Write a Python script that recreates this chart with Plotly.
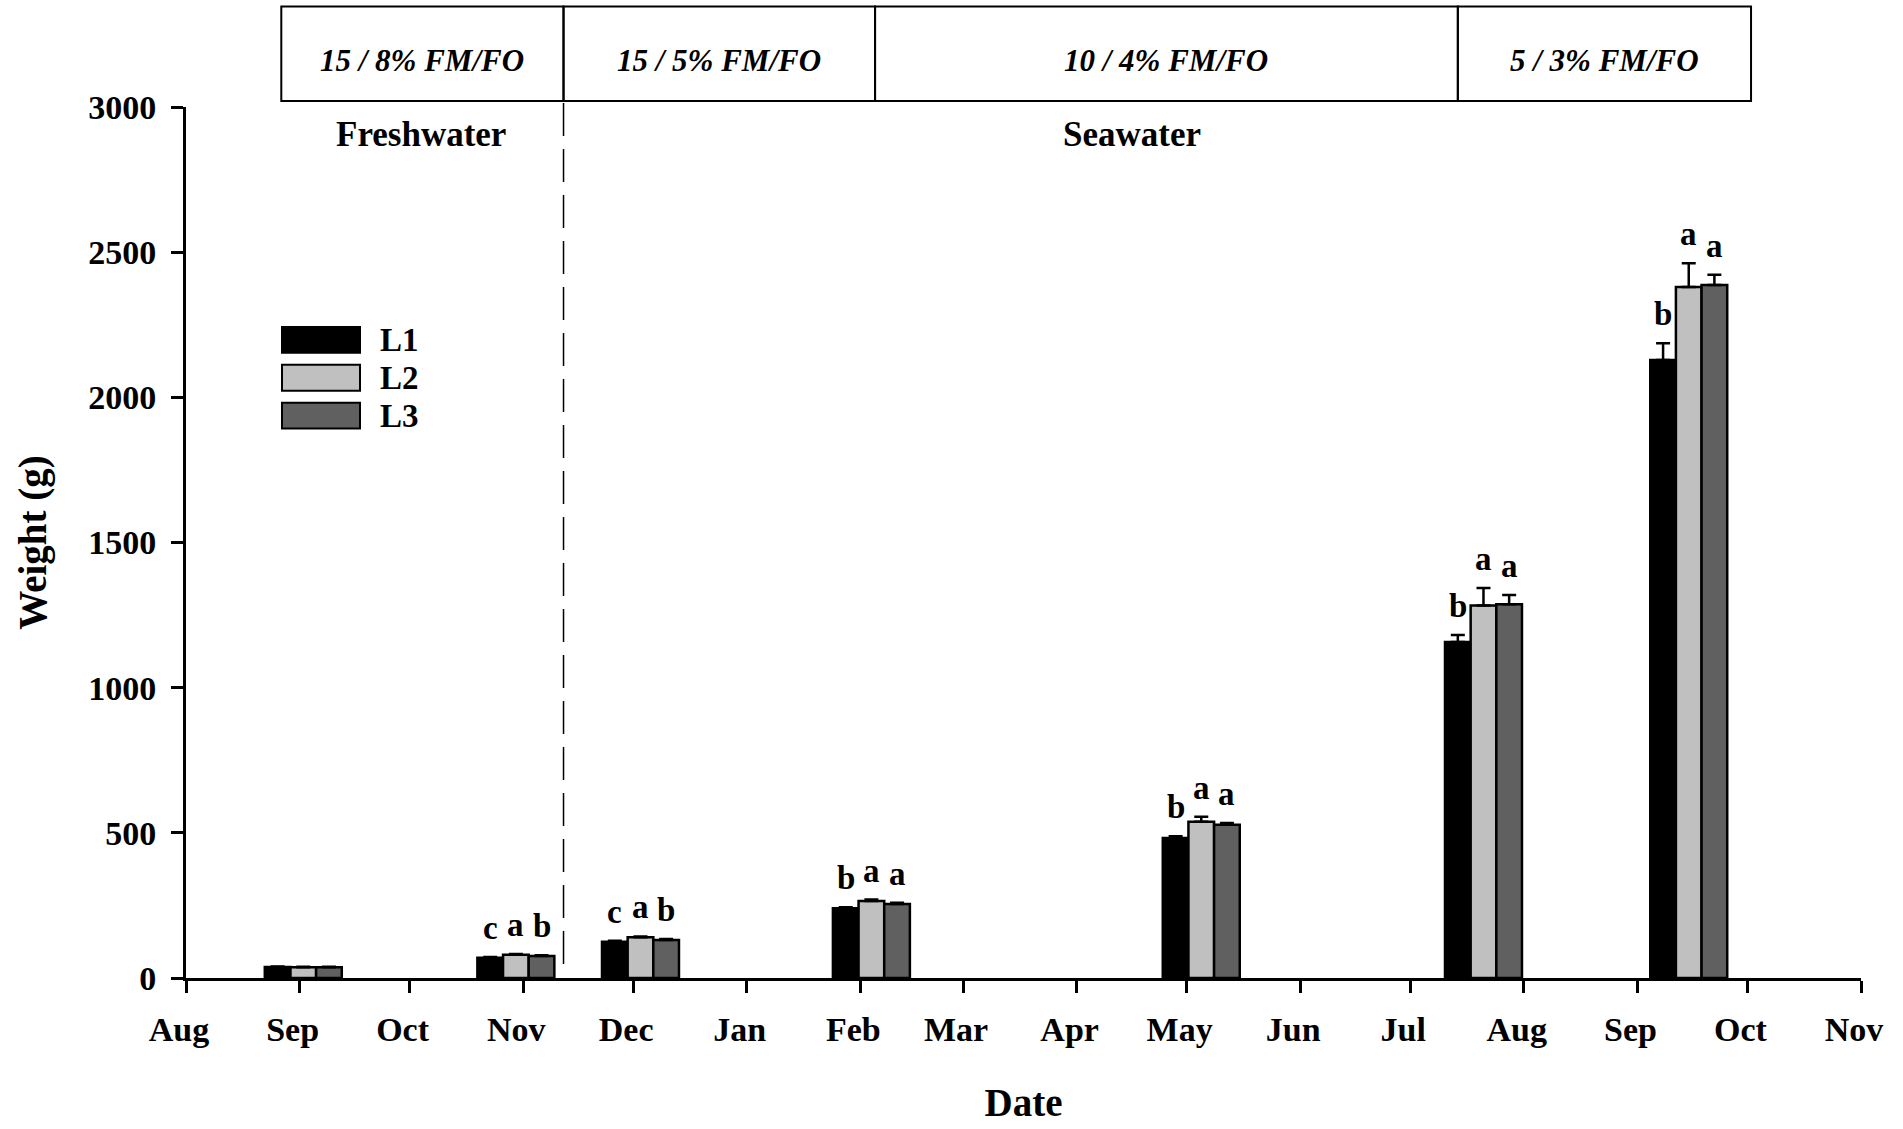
import plotly.graph_objects as go
import pandas as pd

# ---------------- data ----------------
sample_dates = ["2010-09-02", "2010-10-30", "2010-12-03", "2011-02-04",
                "2011-05-05", "2011-07-21", "2011-09-15"]
series_names = ["L1", "L2", "L3"]
l1_weight = [38, 70, 125, 240, 482, 1157, 2129]
l2_weight = [37, 80, 140, 265, 538, 1283, 2380]
l3_weight = [37, 76, 131, 255, 528, 1287, 2387]
l1_err = [2, 2, 3, 4, 6, 24, 57]
l2_err = [2, 3, 3, 5, 17, 60, 82]
l3_err = [2, 2, 3, 4, 6, 32, 35]
l1_letters = ["", "c", "c", "b", "b", "b", "b"]
l2_letters = ["", "a", "a", "a", "a", "a", "a"]
l3_letters = ["", "b", "b", "a", "a", "a", "a"]

phase_bounds = ["2010-08-27", "2010-11-12", "2011-02-05", "2011-07-14", "2011-10-02"]
phase_labels = ["15 / 8% FM/FO", "15 / 5% FM/FO", "10 / 4% FM/FO", "5 / 3% FM/FO"]
transfer_date = "2010-11-12"
water_labels = ["Freshwater", "Seawater"]
water_label_dates = ["2010-10-04", "2011-04-16"]

x_range = ["2010-08-01", "2011-11-01"]
y_ticks = [0, 500, 1000, 1500, 2000, 2500, 3000]

# ---------------- styling ----------------
W, H = 1903, 1129
PLOT_L, PLOT_R, PLOT_T, PLOT_B = 186, 1861, 107, 982
FONT = "Liberation Serif"
colors = ["#000000", "#c0c0c0", "#606060"]
BAR_DAYS = 7
DAY_MS = 86400000
bar_w = BAR_DAYS * DAY_MS


def py(p):  # pixel y -> paper y
    return (PLOT_B - p) / (PLOT_B - PLOT_T)


def px(p):  # pixel x -> paper x
    return (p - PLOT_L) / (PLOT_R - PLOT_L)


weights = [l1_weight, l2_weight, l3_weight]
errs = [l1_err, l2_err, l3_err]
letters = [l1_letters, l2_letters, l3_letters]

fig = go.Figure()
for i, name in enumerate(series_names):
    fig.add_trace(go.Bar(
        x=sample_dates, y=weights[i], name=name,
        width=[bar_w] * len(sample_dates),
        offset=(i - 1.5) * bar_w,
        marker=dict(color=colors[i], line=dict(color="black", width=2.5)),
        error_y=dict(type="data", symmetric=False, array=errs[i],
                     arrayminus=[0] * len(errs[i]), color="black",
                     thickness=2.5, width=7),
        showlegend=False,
    ))

annotations = []
shapes = []

# significance letters
for i in range(3):
    for d, v, e, t in zip(sample_dates, weights[i], errs[i], letters[i]):
        if not t:
            continue
        xc = (pd.Timestamp(d) + pd.Timedelta(days=(i - 1) * BAR_DAYS)).isoformat()
        annotations.append(dict(x=xc, y=v + e, xref="x", yref="y", text=t,
                                showarrow=False, yanchor="bottom", yshift=9,
                                font=dict(family=FONT, size=33, color="black",
                                          weight="bold")))

# diet phase boxes
for a, b, lab in zip(phase_bounds[:-1], phase_bounds[1:], phase_labels):
    shapes.append(dict(type="rect", xref="x", yref="paper", x0=a, x1=b,
                       y0=py(101), y1=py(6), line=dict(color="black", width=2),
                       fillcolor="rgba(0,0,0,0)"))
    mid = (pd.Timestamp(a) + (pd.Timestamp(b) - pd.Timestamp(a)) / 2).isoformat()
    annotations.append(dict(x=mid, y=py(60), xref="x", yref="paper",
                            yanchor="middle", xanchor="center",
                            text="<b><i>" + lab + "</i></b>", showarrow=False,
                            font=dict(family=FONT, size=31, color="black")))

# freshwater / seawater transfer line
shapes.append(dict(type="line", xref="x", yref="paper", x0=transfer_date,
                   x1=transfer_date, y0=py(968), y1=py(101),
                   line=dict(color="black", width=1.5, dash="33px,13px")))
for lab, d in zip(water_labels, water_label_dates):
    annotations.append(dict(x=d, y=py(135), xref="x", yref="paper", text=lab,
                            yanchor="middle", xanchor="center",
                            showarrow=False,
                            font=dict(family=FONT, size=35, color="black",
                                      weight="bold")))

# manual legend
leg_top = [328, 366, 404]
for i, name in enumerate(series_names):
    t = leg_top[i]
    shapes.append(dict(type="rect", xref="paper", yref="paper",
                       x0=px(282), x1=px(360), y0=py(t + 26), y1=py(t),
                       fillcolor=colors[i], line=dict(color="black", width=2)))
    annotations.append(dict(x=px(378), y=py(t + 13), xref="paper", yref="paper",
                            text=name, showarrow=False, xanchor="left",
                            yanchor="middle",
                            font=dict(family=FONT, size=33, color="black",
                                      weight="bold")))

fig.update_layout(
    width=W, height=H,
    margin=dict(l=PLOT_L, r=W - PLOT_R, t=PLOT_T, b=H - PLOT_B, pad=0),
    paper_bgcolor="white", plot_bgcolor="white",
    barmode="overlay",
    shapes=shapes, annotations=annotations,
    font=dict(family=FONT, color="black"),
    xaxis=dict(
        type="date", range=x_range, tick0=x_range[0], dtick="M1",
        tickformat="%b", ticks="outside", ticklen=12, tickwidth=2.5,
        tickcolor="black", showline=True, linewidth=3, linecolor="black",
        showgrid=False, zeroline=False, ticklabelstandoff=7,
        ticklabelshift=-7,
        tickfont=dict(family=FONT, size=34, color="black", weight="bold"),
        title=dict(text="Date", standoff=42,
                   font=dict(family=FONT, size=39, color="black", weight="bold")),
    ),
    yaxis=dict(
        range=[0, 3000], tickvals=y_ticks, ticks="outside", ticklen=12,
        tickwidth=2.5, tickcolor="black", showline=True, linewidth=3,
        linecolor="black", showgrid=False, zeroline=False,
        ticklabelstandoff=8,
        tickfont=dict(family=FONT, size=34, color="black", weight="bold"),
        title=dict(text="Weight (g)", standoff=30,
                   font=dict(family=FONT, size=39, color="black", weight="bold")),
    ),
)

fig.write_html("out.html")
